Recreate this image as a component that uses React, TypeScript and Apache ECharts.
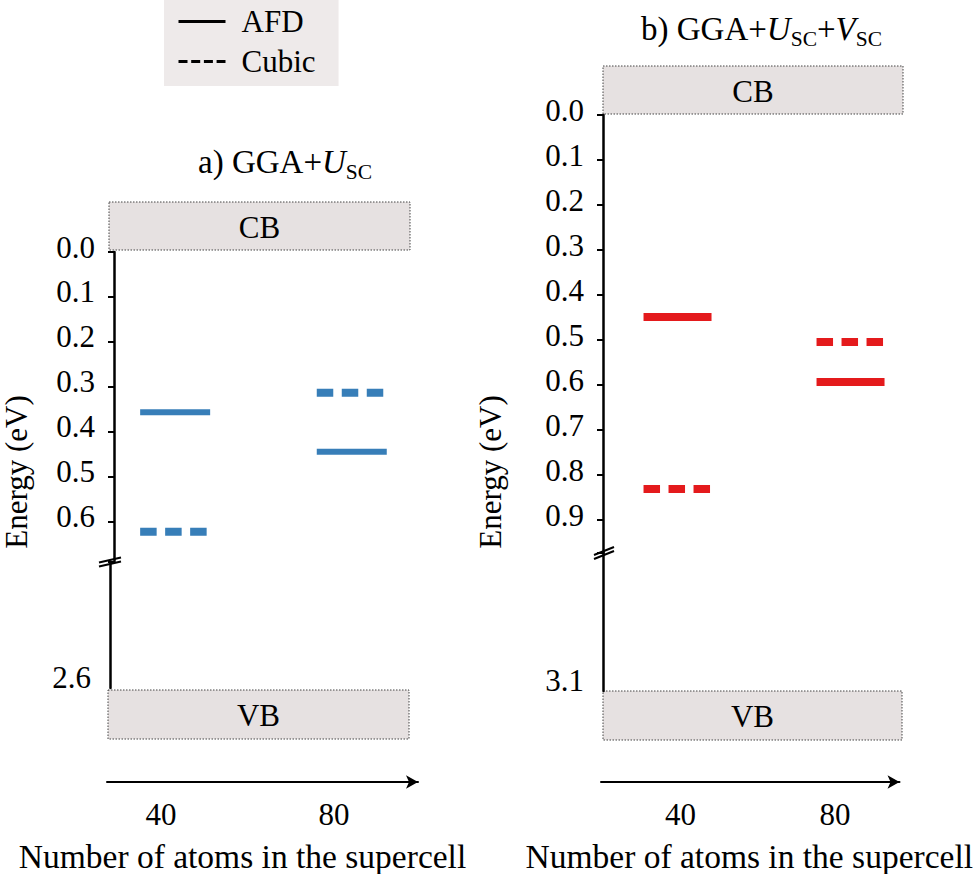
import React, { useEffect, useRef } from 'react';
import * as echarts from 'echarts';

// ---- data ----
const sizes = [40, 80];
const afdA = [0.356, 0.444];
const cubicA = [0.622, 0.313];
const afdB = [0.449, 0.593];
const cubicB = [0.831, 0.504];
const yTicksA = [0, 0.1, 0.2, 0.3, 0.4, 0.5, 0.6];
const yTicksB = [0, 0.1, 0.2, 0.3, 0.4, 0.5, 0.6, 0.7, 0.8, 0.9];
const lowerTickA = [2.6];
const lowerTickB = [3.1];
const xTicks = [40, 80];

const FONT = 'Liberation Serif';
const BLUE = '#377eb8';
const RED = '#e41a1c';
const BOXFILL = '#e6e1e1';

const seg = (color: string, width: number, dash: number[] | null, half: number) =>
  (params: any, api: any) => {
    const p = api.coord([api.value(0), api.value(1)]);
    return {
      type: 'line',
      shape: { x1: p[0] - half, y1: p[1], x2: p[0] + half, y2: p[1] },
      style: { stroke: color, lineWidth: width, lineDash: dash || undefined, fill: null },
    };
  };

const pairs = (ys: number[]) => sizes.map((s, i) => [s, ys[i]]);

const upperY = (gridIndex: number, max: number, ticks: number[], nameGap: number, namePad: number) => ({
  type: 'value', gridIndex, inverse: true, min: 0, max, interval: 0.1,
  axisLine: { show: true, lineStyle: { color: '#000', width: 2.5 } },
  axisTick: { show: true, length: 6, lineStyle: { color: '#000', width: 2 } },
  axisLabel: {
    customValues: ticks, formatter: (v: number) => v.toFixed(1),
    fontFamily: FONT, fontSize: 31, color: '#000', margin: 19,
    verticalAlign: 'bottom', lineHeight: 10,
  },
  splitLine: { show: false },
  name: 'Energy (eV)', nameLocation: 'middle', nameGap, nameRotate: 90,
  nameTextStyle: { fontFamily: FONT, fontSize: 31, color: '#000', padding: [0, namePad, 0, 0] },
});

const lowerY = (gridIndex: number, min: number, max: number, ticks: number[]) => ({
  type: 'value', gridIndex, inverse: true, min, max,
  axisLine: { show: true, lineStyle: { color: '#000', width: 2.5 } },
  axisTick: { show: false },
  axisLabel: {
    customValues: ticks, formatter: (v: number) => v.toFixed(1),
    fontFamily: FONT, fontSize: 31, color: '#000', margin: 19,
    verticalAlign: 'bottom', lineHeight: 22,
  },
  splitLine: { show: false },
});

const hiddenX = (gridIndex: number, min: number, max: number) => ({
  type: 'value', gridIndex, min, max, show: false,
});

const arrowX = (gridIndex: number, min: number, max: number, namePad: number[]) => ({
  type: 'value', gridIndex, min, max, position: 'bottom',
  axisLine: { show: true, symbol: ['none', 'arrow'], symbolSize: [10, 12], lineStyle: { color: '#000', width: 2 } },
  axisTick: { show: false },
  splitLine: { show: false },
  axisLabel: { customValues: xTicks, fontFamily: FONT, fontSize: 31, color: '#000', margin: 17 },
  name: 'Number of atoms in the supercell', nameLocation: 'middle', nameGap: 57,
  nameTextStyle: { fontFamily: FONT, fontSize: 33.5, color: '#000', padding: namePad },
});

const rich = {
  n: { fontFamily: FONT, fontSize: 33, fontWeight: 'normal', color: '#000', lineHeight: 36, verticalAlign: 'top' },
  i: { fontFamily: FONT, fontSize: 33, fontWeight: 'normal', color: '#000', lineHeight: 36, verticalAlign: 'top', fontStyle: 'italic' },
  s: { fontFamily: FONT, fontSize: 21.5, fontWeight: 'normal', color: '#000', lineHeight: 21, verticalAlign: 'top', padding: [16, 0, 0, 0] },
};

const boxText = (text: string, x: number, y: number) => ({
  type: 'text', style: { text, x, y, align: 'center', verticalAlign: 'middle', fontFamily: FONT, fontSize: 31, fill: '#000' },
});
const box = (x: number, y: number, w: number, h: number) => ({
  type: 'rect', shape: { x, y, width: w, height: h },
  style: { fill: BOXFILL, stroke: '#444', lineWidth: 1, lineDash: [1.5, 1.5] },
});
const brk = (cx: number, cy: number, dx: number, dy: number) => [
  { type: 'line', shape: { x1: cx - dx, y1: cy - 2 + dy, x2: cx + dx, y2: cy - 2 - dy }, style: { stroke: '#000', lineWidth: 2 } },
  { type: 'line', shape: { x1: cx - dx, y1: cy + 2 + dy, x2: cx + dx, y2: cy + 2 - dy }, style: { stroke: '#000', lineWidth: 2 } },
];

export default function App() {
  const ref = useRef<HTMLDivElement>(null);
  useEffect(() => {
    document.body.style.margin = '0';
    const chart = echarts.init(ref.current!, null, { renderer: 'svg' });
    chart.setOption({
      animation: false,
      backgroundColor: '#fff',
      title: [
        { text: '{n|a) GGA+}{i|U}{s|SC}', left: 198, top: 145, padding: 0, textStyle: { fontWeight: 'normal', rich } },
        { text: '{n|b) GGA+}{i|U}{s|SC}{n|+}{i|V}{s|SC}', left: 641, top: 12, padding: 0, textStyle: { fontWeight: 'normal', rich } },
      ],
      legend: {
        data: ['AFD', 'Cubic'], orient: 'vertical', left: 164, top: 0,
        padding: [6, 23, 9, 13], itemWidth: 47, itemHeight: 14, itemGap: 9,
        backgroundColor: '#eeeaea', selectedMode: false,
        itemStyle: { color: 'rgba(0,0,0,0)', borderWidth: 0, opacity: 0 },
        lineStyle: { width: 3 },
        textStyle: { fontFamily: FONT, fontSize: 31, color: '#000', padding: [0, 0, 0, 11] },
      },
      grid: [
        { left: 110, top: 252, width: 300, height: 310 },
        { left: 110, top: 562, width: 300, height: 126 },
        { left: 107, top: 781, width: 311, height: 1 },
        { left: 603, top: 115, width: 300, height: 438 },
        { left: 603, top: 553, width: 300, height: 138 },
        { left: 601, top: 781, width: 311, height: 1 },
      ],
      xAxis: [
        hiddenX(0, 26.15, 93.19),
        hiddenX(1, 26.15, 93.19),
        arrowX(2, 27.5, 99.4, [0, 40, 0, 0]),
        hiddenX(3, 22.77, 92.13),
        hiddenX(4, 22.77, 92.13),
        arrowX(5, 19.4, 96.7, [0, 2, 0, 0]),
      ],
      yAxis: [
        upperY(0, 0.689, yTicksA, 82, 130),
        lowerY(1, 2.3, 2.6, lowerTickA),
        { type: 'value', gridIndex: 2, show: false, min: 0, max: 1 },
        upperY(3, 0.973, yTicksB, 97, 276),
        lowerY(4, 2.8, 3.1, lowerTickB),
        { type: 'value', gridIndex: 5, show: false, min: 0, max: 1 },
      ],
      series: [
        { name: 'AFD', type: 'line', data: [], symbol: 'none', xAxisIndex: 0, yAxisIndex: 0, color: '#000', lineStyle: { color: '#000', width: 3, type: 'solid' } },
        { name: 'Cubic', type: 'line', data: [], symbol: 'none', xAxisIndex: 0, yAxisIndex: 0, color: '#000', lineStyle: { color: '#000', width: 3, type: [9, 3.7] } },
        { name: 'AFD (a)', type: 'custom', xAxisIndex: 0, yAxisIndex: 0, data: pairs(afdA), renderItem: seg(BLUE, 6, null, 35) },
        { name: 'Cubic (a)', type: 'custom', xAxisIndex: 0, yAxisIndex: 0, data: pairs(cubicA), renderItem: seg(BLUE, 8, [16.5, 8.5], 35) },
        { name: 'AFD (b)', type: 'custom', xAxisIndex: 3, yAxisIndex: 3, data: pairs(afdB), renderItem: seg(RED, 8, null, 34) },
        { name: 'Cubic (b)', type: 'custom', xAxisIndex: 3, yAxisIndex: 3, data: pairs(cubicB), renderItem: seg(RED, 8, [16.5, 8.5], 34) },
      ],
      graphic: [
        box(109, 202, 301, 48), boxText('CB', 259.5, 227),
        box(108, 690, 301, 49), boxText('VB', 258.5, 715),
        box(603, 66, 300, 48), boxText('CB', 753, 91),
        box(603, 691, 299, 49), boxText('VB', 752.5, 716),
        ...brk(110, 562, 11, 2.5),
        ...brk(604, 553, 10, 4),
      ],
    });
    return () => chart.dispose();
  }, []);
  return <div ref={ref} style={{ width: 975, height: 874 }} />;
}
